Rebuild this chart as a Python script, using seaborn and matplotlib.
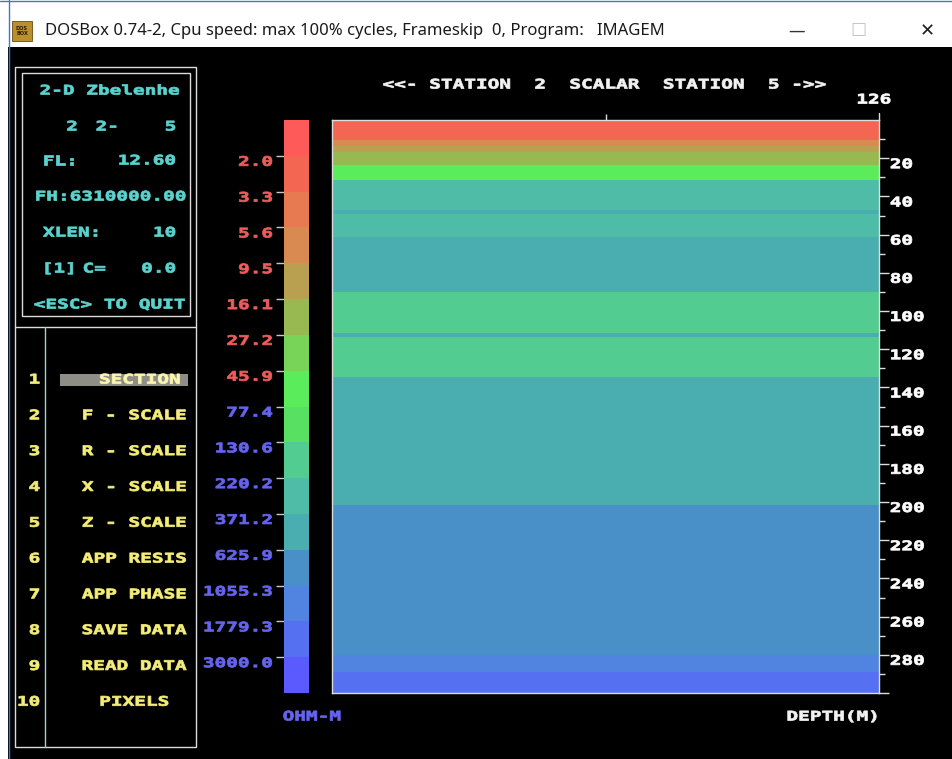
import numpy as np
import pandas as pd
import seaborn as sns
import matplotlib
matplotlib.use("Agg")
import matplotlib.pyplot as plt
from matplotlib.colors import ListedColormap, BoundaryNorm
from matplotlib.patches import Rectangle
from matplotlib.patheffects import AbstractPathEffect
from matplotlib.transforms import Affine2D

# ---------------- data ----------------
# resistivity class limits (ohm-m) and the palette used for the 16 classes
class_bounds = [2.0, 3.3, 5.6, 9.5, 16.1, 27.2, 45.9, 77.4, 130.6,
                220.2, 371.2, 625.9, 1055.3, 1779.3, 3000.0]
class_colors = ["#ff5a5a", "#f26652", "#e87a52", "#d88a50", "#b8a050",
                "#98b852", "#78d458", "#5aec5a", "#58e062", "#52cc90",
                "#4fbca8", "#4aaeb0", "#4a90c8", "#5084e0", "#5570f0",
                "#5a5aff"]

# layered model: top of each layer (m) and its resistivity (ohm-m)
layer_top_m = [0, 10.5, 13.5, 17, 23.5, 31.5, 47, 49, 61.5, 90,
               111.5, 113.5, 134.5, 201.5, 280, 289]
layer_rho = [2.6, 7.3, 12.4, 21, 60, 290, 480, 290, 480, 170,
             480, 170, 480, 810, 1350, 2300]
max_depth_m = 300
profile_len = 126
depth_ticks = list(range(20, 300, 20))
depth_minor = list(range(10, 300, 20))

menu_items = ["SECTION", "F - SCALE", "R - SCALE", "X - SCALE", "Z - SCALE",
              "APP RESIS", "APP PHASE", "SAVE DATA", "READ DATA", "PIXELS"]

window_title = "DOSBox 0.74-2, Cpu speed: max 100% cycles, Frameskip  0, Program:   IMAGEM"
plot_title = "<<- STATION  2  SCALAR  STATION  5 ->>"

# ---------------- style ----------------
sns.set_theme(style="white")
plt.rcParams["font.family"] = ["DejaVu Sans Mono", "DejaVu Sans"]

W, H = 952, 759
CYAN = "#5ad3cf"
YELLOW = "#f4ee78"
RED_TXT = "#ee5c5c"
BLUE_TXT = "#6464f0"
FRAME = "#dcdcdc"
SX = 1.47          # horizontal stretch of the screen font
FS = 9.5


class Stretch(AbstractPathEffect):
    """Widen glyphs horizontally around an anchor (0 left, .5 centre, 1 right)
    and thicken them slightly, like a scaled-up bitmap screen font."""

    def __init__(self, sx, anchor=0.0, weight=0.55):
        super().__init__()
        self.sx = sx
        self.anchor = anchor
        self.weight = weight

    def draw_path(self, renderer, gc, tpath, affine, rgbFace=None):
        ext = tpath.get_extents()
        x0 = ext.x0 + self.anchor * ext.width
        t = Affine2D().translate(-x0, 0).scale(self.sx, 1.0).translate(x0, 0) + affine
        gc0 = renderer.new_gc()
        gc0.copy_properties(gc)
        gc0.set_linewidth(self.weight)
        if rgbFace is not None:
            gc0.set_foreground(rgbFace)
        renderer.draw_path(gc0, tpath, t, rgbFace)
        gc0.restore()


ANCH = {"left": 0.0, "center": 0.5, "right": 1.0}


def box(x0, y0, x1, y1):
    return [x0 / W, 1 - y1 / H, (x1 - x0) / W, (y1 - y0) / H]


fig = plt.figure(figsize=(W / 100, H / 100), dpi=100, facecolor="black")

# ---------- screen background, window chrome, panels ----------
ax_bg = fig.add_axes([0, 0, 1, 1])
ax_bg.set_xlim(0, W)
ax_bg.set_ylim(H, 0)
ax_bg.axis("off")


def dos_text(x, y, s, color, ha="left", size=FS):
    ax_bg.text(x, y, s, color=color, ha=ha, va="center", fontsize=size,
               fontweight="bold", family="DejaVu Sans Mono",
               path_effects=[Stretch(SX, ANCH[ha])])


# window title bar
ax_bg.add_patch(Rectangle((0, 0), W, 47, facecolor="white", edgecolor="none"))
ax_bg.add_patch(Rectangle((0, 47), 8, H - 47, facecolor="white", edgecolor="none"))
ax_bg.plot([8.5, 8.5], [0, H], color="#3c78c8", lw=1)
ax_bg.plot([0, W], [0.8, 0.8], color="#3c78c8", lw=1)
ax_bg.add_patch(Rectangle((12, 21), 20, 20, facecolor="#b8902e", edgecolor="#6a4a10", lw=0.6))
ax_bg.text(22, 31, "DOS\nBOX", ha="center", va="center", fontsize=3.6,
           fontweight="bold", color="#2a1a05", linespacing=0.9, family="DejaVu Sans")
ax_bg.text(45, 31, window_title, ha="left", va="center", fontsize=12,
           color="#1a1a1a", family="Noto Sans")
ax_bg.text(797, 31, "\u2014", ha="center", va="center", fontsize=12,
           color="#333333", family="DejaVu Sans")
ax_bg.text(858, 31, "\u2610", ha="center", va="center", fontsize=13,
           color="#c4c4c4", family="DejaVu Sans")
ax_bg.text(927, 31, "\u2715", ha="center", va="center", fontsize=13,
           color="#222222", family="DejaVu Sans")

# left panel frames
ax_bg.add_patch(Rectangle((15, 67), 181, 680, facecolor="none", edgecolor=FRAME, lw=1.0))
ax_bg.add_patch(Rectangle((22, 73), 168, 243, facecolor="none", edgecolor=FRAME, lw=1.0))
ax_bg.plot([15, 196], [327, 327], color=FRAME, lw=1.0)
ax_bg.plot([45, 45], [327, 747], color="#a8d0cc", lw=1.0)

# parameter box
dos_text(110, 91, "2-D Zbelenhe", CYAN, "center")
dos_text(72, 127, "2", CYAN, "center")
dos_text(107, 127, "2-", CYAN, "center")
dos_text(176, 127, "5", CYAN, "right")
dos_text(43, 161, "FL:", CYAN, "left")
dos_text(176, 161, "12.60", CYAN, "right")
dos_text(111, 197, "FH:6310000.00", CYAN, "center")
dos_text(43, 233, "XLEN:", CYAN, "left")
dos_text(176, 233, "10", CYAN, "right")
dos_text(43, 269, "[1]", CYAN, "left")
dos_text(83, 269, "C=", CYAN, "left")
dos_text(176, 269, "0.0", CYAN, "right")
dos_text(110, 305, "<ESC> TO QUIT", CYAN, "center")

# menu
ax_bg.add_patch(Rectangle((60, 374), 128, 12, facecolor="#8e8e86", edgecolor="none", lw=0))
for i, item in enumerate(menu_items):
    y = 380 + i * 35.8
    dos_text(40, y, str(i + 1), YELLOW, "right")
    if i == 0:
        dos_text(140, y, item, "#fbf6b0", "center")
    else:
        dos_text(134.5, y, item, YELLOW, "center")

# ---------- resistivity section ----------
cmap = ListedColormap(class_colors)
norm = BoundaryNorm([0.1] + class_bounds + [1e5], ncolors=len(class_colors))

dz = 0.5
n_cols = profile_len // 2
depth_mid = (np.arange(int(max_depth_m / dz)) + 0.5) * dz
layer_idx = np.searchsorted(layer_top_m, depth_mid, side="right") - 1
rho_col = np.asarray(layer_rho)[layer_idx]
section = pd.DataFrame(np.repeat(rho_col[:, None], n_cols, axis=1),
                       index=depth_mid,
                       columns=np.linspace(0, profile_len, n_cols))

sec_x0, sec_y0, sec_x1, sec_y1 = 332, 120, 879, 693
ax_sec = fig.add_axes(box(sec_x0, sec_y0, sec_x1, sec_y1))
sns.heatmap(section, ax=ax_sec, cmap=cmap, norm=norm, cbar=False,
            xticklabels=False, yticklabels=False, linewidths=0)
for sp in ax_sec.spines.values():
    sp.set_visible(True)
    sp.set_color(FRAME)
    sp.set_linewidth(1.0)

ax_sec.yaxis.set_ticks_position("right")
ax_sec.set_yticks([d / dz for d in depth_ticks] + [max_depth_m / dz],
                  labels=[str(d) for d in depth_ticks] + [""])
ax_sec.set_yticks([d / dz for d in depth_minor], minor=True)
ax_sec.tick_params(axis="y", which="both", right=True, left=False,
                   labelright=True, labelleft=False, direction="out",
                   color=FRAME, width=1.0, pad=1, labelsize=FS,
                   labelcolor="white")
ax_sec.tick_params(axis="y", which="major", length=7)
ax_sec.tick_params(axis="y", which="minor", length=4)
for lbl in ax_sec.get_yticklabels():
    lbl.set_va("top")
    lbl.set_fontweight("bold")
    lbl.set_path_effects([Stretch(SX, 0.0)])

ax_sec.set_xticks([n_cols / 2])
ax_sec.tick_params(axis="x", top=True, bottom=False, labeltop=False,
                   labelbottom=False, direction="out", length=4,
                   color=FRAME, width=1.0)
ax_sec.set_xlabel("")
ax_sec.set_ylabel("")

# right axis line runs up to the distance label
ax_bg.plot([sec_x1, sec_x1], [113, sec_y0], color=FRAME, lw=1.0)
dos_text(874, 100, str(profile_len), "white", "center")

# ---------- colour scale ----------
reps = ([class_bounds[0] / 1.5]
        + [np.sqrt(a * b) for a, b in zip(class_bounds[:-1], class_bounds[1:])]
        + [class_bounds[-1] * 1.5])
scale_df = pd.DataFrame({"rho": reps})

ax_cb = fig.add_axes(box(284, sec_y0, 309, sec_y1))
sns.heatmap(scale_df, ax=ax_cb, cmap=cmap, norm=norm, cbar=False,
            xticklabels=False, yticklabels=False, linewidths=0)
ax_cb.set_yticks(np.arange(1, len(class_bounds) + 1),
                 labels=[f"{b:.1f}" for b in class_bounds])
ax_cb.tick_params(axis="y", left=True, labelleft=True, direction="out",
                  length=6, color="#c8c8c8", width=1.0, pad=2, labelsize=FS)
for lbl, b in zip(ax_cb.get_yticklabels(), class_bounds):
    lbl.set_color(RED_TXT if b < 60 else BLUE_TXT)
    lbl.set_va("top")
    lbl.set_fontweight("bold")
    lbl.set_path_effects([Stretch(SX, 1.0)])
ax_cb.set_xlabel("")
ax_cb.set_ylabel("")

# ---------- titles ----------
dos_text((sec_x0 + sec_x1) / 2, 85, plot_title, "#f2f2f2", "center")
dos_text(312, 717, "OHM-M", BLUE_TXT, "center")
dos_text(833, 717, "DEPTH(M)", "#f2f2f2", "center")

fig.savefig("out.png", dpi=100, facecolor=fig.get_facecolor())
